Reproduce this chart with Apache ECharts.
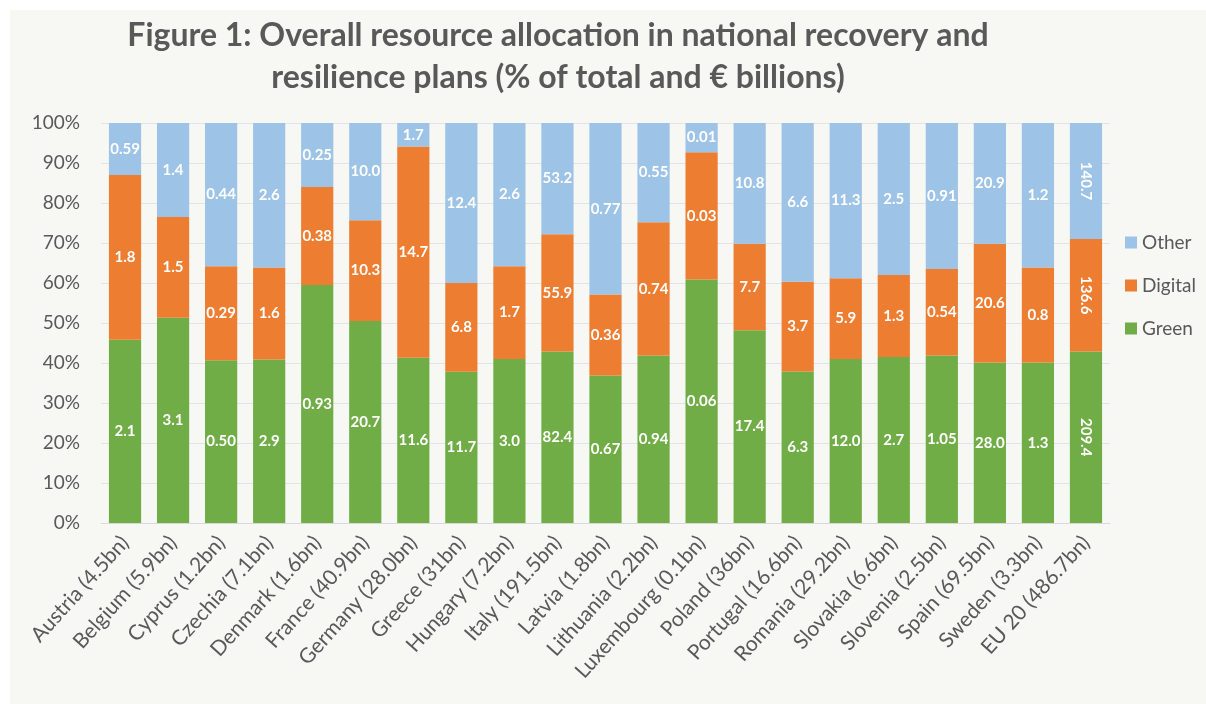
<!DOCTYPE html>
<html>
<head>
<meta charset="utf-8">
<script src="https://cdn.jsdelivr.net/npm/echarts@6/dist/echarts.min.js"></script>
<style>
  html, body { margin: 0; padding: 0; background: #ffffff; }
  #panel { position: absolute; left: 10px; top: 10px; width: 1196px; height: 694px; background: #f7f7f3; }
  #chart { position: absolute; left: 0; top: 0; width: 1206px; height: 704px; }
</style>
</head>
<body>
<div id="panel"></div>
<div id="chart"></div>
<script>
// categories (x axis)
const countries = [
  'Austria (4.5bn)', 'Belgium (5.9bn)', 'Cyprus (1.2bn)', 'Czechia (7.1bn)', 'Denmark (1.6bn)',
  'France (40.9bn)', 'Germany (28.0bn)', 'Greece (31bn)', 'Hungary (7.2bn)', 'Italy (191.5bn)',
  'Latvia (1.8bn)', 'Lithuania (2.2bn)', 'Luxembourg (0.1bn)', 'Poland (36bn)', 'Portugal (16.6bn)',
  'Romania (29.2bn)', 'Slovakia (6.6bn)', 'Slovenia (2.5bn)', 'Spain (69.5bn)', 'Sweden (3.3bn)',
  'EU 20 (486.7bn)'
]

// share of total, %
const greenPct = [45.8, 51.3, 40.7, 40.9, 59.5, 50.5, 41.3, 37.8, 41.0, 42.9, 36.9, 41.9, 60.9, 48.2, 37.9, 41.0, 41.5, 41.9, 40.1, 40.1, 42.9]
const digitalPct = [41.2, 25.2, 23.5, 23.0, 24.5, 25.2, 52.8, 22.2, 23.2, 29.3, 20.2, 33.3, 31.8, 21.6, 22.4, 20.2, 20.5, 21.6, 29.7, 23.8, 28.1]
const otherPct = [13.0, 23.5, 35.8, 36.1, 16.0, 24.3, 5.9, 40.0, 35.8, 27.8, 42.9, 24.8, 7.3, 30.2, 39.7, 38.8, 38.0, 36.5, 30.2, 36.1, 29.0]

// € billions shown on the bars
const greenBn = ['2.1', '3.1', '0.50', '2.9', '0.93', '20.7', '11.6', '11.7', '3.0', '82.4', '0.67', '0.94', '0.06', '17.4', '6.3', '12.0', '2.7', '1.05', '28.0', '1.3', '209.4']
const digitalBn = ['1.8', '1.5', '0.29', '1.6', '0.38', '10.3', '14.7', '6.8', '1.7', '55.9', '0.36', '0.74', '0.03', '7.7', '3.7', '5.9', '1.3', '0.54', '20.6', '0.8', '136.6']
const otherBn = ['0.59', '1.4', '0.44', '2.6', '0.25', '10.0', '1.7', '12.4', '2.6', '53.2', '0.77', '0.55', '0.01', '10.8', '6.6', '11.3', '2.5', '0.91', '20.9', '1.2', '140.7']

const yTicks = ['0%', '10%', '20%', '30%', '40%', '50%', '60%', '70%', '80%', '90%', '100%']

const textGray = '#595959'
const font = 'Lato, "Open Sans", sans-serif'

// last bar (EU total) has its labels turned on their side
const toData = (pct, bn) => pct.map((v, i) => {
  const item = { value: v, bn: bn[i] }
  if (i === pct.length - 1) item.label = { rotate: -90 }
  return item
})

const makeSeries = (name, color, pct, bn) => ({
  name,
  type: 'bar',
  stack: 'total',
  barCategoryGap: '33%',
  itemStyle: { color },
  label: {
    show: true,
    position: 'inside',
    color: '#ffffff',
    fontFamily: font,
    fontWeight: 'bold',
    fontSize: 15,
    formatter: p => bn[p.dataIndex]
  },
  data: toData(pct, bn)
})

const chart = echarts.init(document.getElementById('chart'), null, { renderer: 'canvas' })

chart.setOption({
  animation: false,
  backgroundColor: 'transparent',
  title: {
    text: 'Figure 1: Overall resource allocation in national recovery and\nresilience plans (% of total and € billions)',
    left: 553,
    top: 10,
    textAlign: 'center',
    textStyle: {
      fontFamily: font,
      fontWeight: 'bold',
      fontSize: 32,
      lineHeight: 42,
      color: textGray
    }
  },
  legend: {
    orient: 'vertical',
    left: 1120,
    top: 228,
    icon: 'rect',
    itemWidth: 12,
    itemHeight: 12,
    itemGap: 24,
    data: ['Other', 'Digital', 'Green'],
    textStyle: { fontFamily: font, fontSize: 19, color: textGray }
  },
  grid: { left: 101, right: 96, top: 123, bottom: 181 },
  xAxis: {
    type: 'category',
    data: countries,
    axisTick: { show: false },
    axisLine: { lineStyle: { color: '#d9d9d9', width: 1 } },
    axisLabel: {
      rotate: 48,
      margin: 16,
      interval: 0,
      fontFamily: font,
      fontSize: 21,
      color: textGray
    }
  },
  yAxis: {
    type: 'value',
    min: 0,
    max: 100,
    interval: 10,
    axisLine: { show: false },
    axisTick: { show: false },
    splitLine: { lineStyle: { color: '#e3e3e3', width: 1 } },
    axisLabel: {
      margin: 21,
      fontFamily: font,
      fontSize: 19,
      color: textGray,
      formatter: v => yTicks[Math.round(v / 10)]
    }
  },
  series: [
    makeSeries('Green', '#70ad47', greenPct, greenBn),
    makeSeries('Digital', '#ed7d31', digitalPct, digitalBn),
    makeSeries('Other', '#9dc3e6', otherPct, otherBn)
  ]
})
</script>
</body>
</html>
